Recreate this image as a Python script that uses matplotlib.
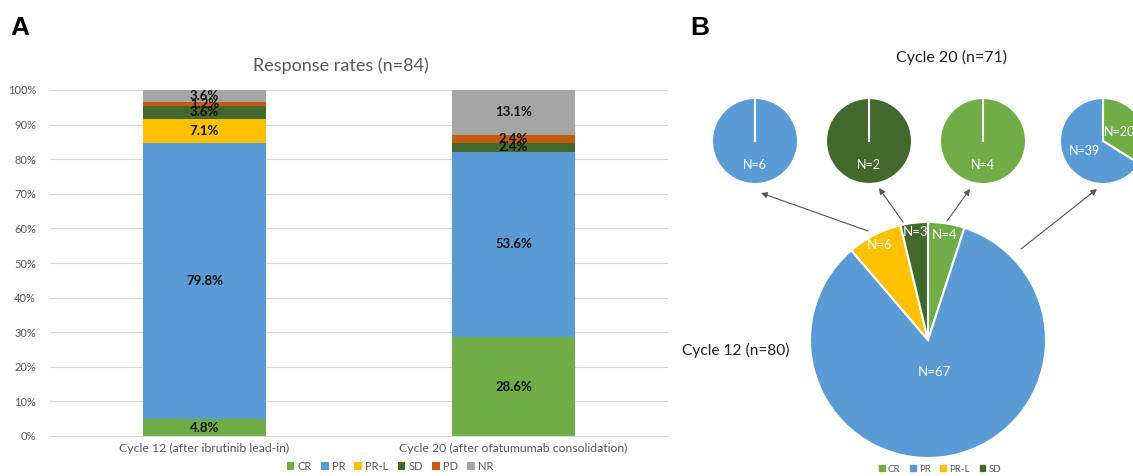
import numpy as np
import matplotlib.pyplot as plt
from matplotlib.patches import Patch

plt.rcParams['font.family'] = ['Lato', 'DejaVu Sans']

# data
categories = ['Cycle 12 (after ibrutinib lead-in)', 'Cycle 20 (after ofatumumab consolidation)']
responses = ['CR', 'PR', 'PR-L', 'SD', 'PD', 'NR']
cr = [4.8, 28.6]
pr = [79.8, 53.6]
prl = [7.1, 0.0]
sd = [3.6, 2.4]
pd_ = [1.2, 2.4]
nr = [3.6, 13.1]

c12_labels = ['CR', 'PR', 'PR-L', 'SD']
c12_counts = [4, 67, 6, 3]
c20_from_pr = [20, 39]   # CR, PR (n=59)
c20_from_prl = [6]       # PR
c20_from_sd = [2]        # SD
c20_from_cr = [4]        # CR

colors = {'CR': '#70AD47', 'PR': '#5B9BD5', 'PR-L': '#FFC000',
          'SD': '#43682B', 'PD': '#C55A11', 'NR': '#A5A5A5'}

W, H = 1133, 476
fig = plt.figure(figsize=(W / 100, H / 100), dpi=100)

def box(x0, y0, x1, y1):
    return [x0 / W, 1 - y1 / H, (x1 - x0) / W, (y1 - y0) / H]

def px(x, y):
    return (x / W, 1 - y / H)

# ---- panel A : stacked bars
ax = fig.add_axes(box(50, 90, 668, 436))
x = np.arange(len(categories))
bottom = np.zeros(len(categories))
for name, vals in zip(responses, [cr, pr, prl, sd, pd_, nr]):
    vals = np.array(vals)
    ax.bar(x, vals, 0.4, bottom=bottom, color=colors[name], label=name, zorder=2)
    for xi, b, v in zip(x, bottom, vals):
        if v > 0:
            ax.text(xi, b + v / 2, f'{v:.1f}%', ha='center', va='center',
                    fontsize=9.5, fontweight='bold', color='#111111', zorder=3)
    bottom += vals

ax.set_xlim(-0.5, 1.5)
ax.set_ylim(0, 100)
ax.set_yticks(np.arange(0, 101, 10))
ax.set_yticklabels([f'{t}%' for t in range(0, 101, 10)])
ax.set_xticks(x)
ax.set_xticklabels(categories)
ax.tick_params(length=0, labelsize=8, labelcolor='#595959', pad=7)
ax.tick_params(axis='x', labelsize=8.8, pad=5)
ax.tick_params(axis='y', pad=10)
ax.grid(axis='y', color='#D9D9D9', linewidth=0.8, zorder=0)
for s in ['top', 'right', 'left']:
    ax.spines[s].set_visible(False)
ax.spines['bottom'].set_color('#D9D9D9')
ax.set_title('Response rates (n=84)', fontsize=13, color='#595959', pad=14, x=0.471)
handles, labels = ax.get_legend_handles_labels()
fig.legend(handles, labels, loc='center', bbox_to_anchor=px(390, 466), ncol=6, frameon=False,
           fontsize=8, labelcolor='#595959', handlelength=0.7, handleheight=0.7,
           handletextpad=0.3, columnspacing=0.8)

fig.text(*px(10, 28), 'A', fontsize=19, fontweight='bold', family='Liberation Sans', va='center')
fig.text(*px(690, 28), 'B', fontsize=19, fontweight='bold', family='Liberation Sans', va='center')

# ---- panel B : pies
def draw_pie(cx, cy, r, counts, names, dists, fs):
    a = fig.add_axes(box(cx - r, cy - r, cx + r, cy + r))
    wedges, _ = a.pie(counts, colors=[colors[n] for n in names], startangle=90,
                      counterclock=False, radius=1,
                      wedgeprops=dict(edgecolor='white', linewidth=1.5))
    for w, c, d in zip(wedges, counts, dists):
        ang = np.deg2rad((w.theta1 + w.theta2) / 2)
        a.text(d * np.cos(ang), d * np.sin(ang), f'N={c}', ha='center', va='center',
               color='white', fontsize=fs)
    if len(counts) == 1:
        a.plot([0, 0], [0, 1], color='white', linewidth=1.5)
    a.set_xlim(-1, 1)
    a.set_ylim(-1, 1)
    a.set_aspect('equal')
    a.axis('off')

draw_pie(928, 340, 118, c12_counts, c12_labels, [0.9, 0.28, 0.9, 0.92], 9.5)
draw_pie(755, 141, 43, c20_from_prl, ['PR'], [0.56], 9)
draw_pie(869, 141, 43, c20_from_sd, ['SD'], [0.56], 9)
draw_pie(983, 141, 43, c20_from_cr, ['CR'], [0.56], 9)
draw_pie(1103, 141, 43, c20_from_pr, ['CR', 'PR'], [0.45, 0.5], 9)

arrows = [((868, 231), (761, 193)), ((903, 222), (879, 188)),
          ((947, 221), (970, 189)), ((1021, 249), (1097, 189))]
for (x0, y0), (x1, y1) in arrows:
    fig.add_artist(plt.Annotation('', xy=px(x1, y1), xytext=px(x0, y0),
                                  xycoords='figure fraction', textcoords='figure fraction',
                                  arrowprops=dict(arrowstyle='-|>', color='#555555', lw=0.8,
                                                  mutation_scale=9, shrinkA=0, shrinkB=0)))

fig.text(*px(952, 57), 'Cycle 20 (n=71)', ha='center', va='center', fontsize=11.5, color='#222222')
fig.text(*px(736, 350), 'Cycle 12 (n=80)', ha='center', va='center', fontsize=11.2, color='#222222')

fig.legend(handles=[Patch(color=colors[n], label=n) for n in c12_labels],
           loc='center', bbox_to_anchor=px(940, 469), ncol=4, frameon=False,
           fontsize=7, labelcolor='#595959', handlelength=0.6, handleheight=0.6,
           handletextpad=0.3, columnspacing=1.0)

fig.savefig('out.png', dpi=100)
